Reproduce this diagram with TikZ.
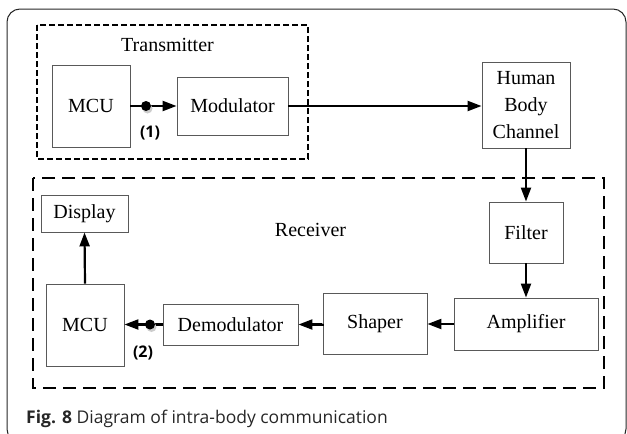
\documentclass[tikz,border=0pt]{standalone}
\usepackage{fontspec}
\setmainfont{Liberation Serif}
\newfontfamily\capfont{Open Sans}
\usetikzlibrary{arrows.meta}
\begin{document}
\begin{tikzpicture}[x=1pt,y=-1pt,
  box/.style={draw=black!65, line width=0.9pt, inner sep=0pt, align=center,
    font=\fontsize{20}{27}\selectfont},
  arr/.style={line width=2.2pt, -{Triangle[length=14pt,width=10pt]}},
  dotmark/.style={fill=black},
  lbl/.style={font=\capfont\bfseries\fontsize{16}{18}\selectfont, inner sep=0pt},
  grp/.style={font=\fontsize{20}{24}\selectfont, inner sep=0pt}]
\useasboundingbox (0,0) rectangle (627,434);
% outer frame
\draw[black!85, line width=1pt, rounded corners=13pt] (7,9) rectangle (626,442);
% groups
\draw[line width=1.3pt, dash pattern=on 6pt off 3pt] (37,25) rectangle (308,159);
\draw[line width=2pt, dash pattern=on 13pt off 7pt] (33,178) rectangle (604,388);
\node[grp] (txlabel) at (167.5,45) {Transmitter};
\node[grp] (rxlabel) at (310.5,230) {Receiver};
% blocks
\node[box, minimum width=78pt, minimum height=82pt] (txmcu) at (91,106) {MCU};
\node[box, minimum width=111pt, minimum height=58pt] (mod) at (232.5,106) {Modulator};
\node[box, minimum width=88pt, minimum height=86pt] (hbc) at (526,105) {Human\\Body\\Channel};
\node[box, minimum width=74pt, minimum height=61pt] (filter) at (526,232.5) {Filter};
\node[box, minimum width=144pt, minimum height=52pt] (amp) at (526,324) {Amplifier};
\node[box, minimum width=104pt, minimum height=61pt] (shaper) at (375,323.5) {Shaper};
\node[box, minimum width=135pt, minimum height=41pt] (demod) at (230.5,324.5) {Demodulator};
\node[box, minimum width=78pt, minimum height=82pt] (rxmcu) at (85,325) {MCU};
\node[box, minimum width=87pt, minimum height=37pt] (disp) at (84.5,213.5) {Display};
% connectors
\draw[arr] (txmcu.east) -- (mod.west);
\draw[arr] (mod.east) -- (mod.east -| hbc.west);
\draw[arr] (hbc.south) -- (filter.north);
\draw[arr] (filter.south) -- (amp.north);
\draw[arr] (amp.west) -- (amp.west -| shaper.east);
\draw[arr] (shaper.west) -- (shaper.west |- demod.east) -- (demod.east);
\draw[arr] (demod.west) -- (demod.west -| rxmcu.east);
\draw[arr] (rxmcu.north) -- (disp.south);
% probe points
\coordinate (p1) at (146,106);
\coordinate (p2) at (150,324.5);
\fill[black!20] ([shift={(1.5,2.5)}]p1) circle (5pt);
\fill[black!20] ([shift={(1.5,2.5)}]p2) circle (5pt);
\fill[dotmark] (p1) circle (5pt);
\fill[dotmark] (p2) circle (5pt);
\node[lbl] (l1) at (150,133) {(1)};
\node[lbl] (l2) at (143,353) {(2)};
% caption
\node[anchor=base west, inner sep=0pt, text=black!85, font=\capfont\fontsize{17.5}{20}\selectfont] (cap) at (26,423) {\textbf{Fig. 8} Diagram of intra-body communication};
\end{tikzpicture}
\end{document}
